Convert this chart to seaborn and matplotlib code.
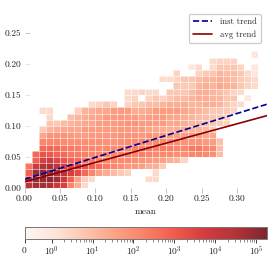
import numpy as np
import pandas as pd
import matplotlib
matplotlib.use("Agg")
import matplotlib.pyplot as plt
from matplotlib.colors import SymLogNorm
from matplotlib.ticker import FixedLocator
import seaborn as sns

sns.set_theme(style="white")
plt.rcParams["font.family"] = ["cmr10", "DejaVu Sans"]
plt.rcParams["mathtext.fontset"] = "cm"
plt.rcParams["axes.formatter.use_mathtext"] = True
plt.rcParams["axes.unicode_minus"] = False

# counts per cell, row 0 is the bottom row (mean bins 0.01 wide, y bins 0.01 high)
row_00 = [20000, 50000, 50000, 40000, 8000, 4000, 150, 20, 2]
row_01 = [8000, 80000, 90000, 100000, 60000, 8000, 800, 40, 5, 2, 0, 0, 0, 0, 0, 0, 0, 2, 2]
row_02 = [800, 60000, 100000, 60000, 40000, 20000, 5000, 2500, 500, 150, 40, 20, 10, 5, 3, 0, 0, 0, 2]
row_03 = [300, 8000, 30000, 50000, 20000, 5000, 3000, 3000, 1500, 800, 500, 250, 150, 100, 60, 60, 40, 20, 20, 5]
row_04 = [0, 800, 5000, 8000, 3000, 1500, 800, 500, 300, 250, 200, 150, 150, 120, 120, 100, 80, 60, 50, 40, 20, 15, 3]
row_05 = [0, 500, 1500, 1200, 800, 500, 300, 250, 200, 150, 150, 150, 150, 150, 200, 150, 200, 150, 120, 120, 120, 100, 100, 150, 150, 120, 100, 10]
row_06 = [0, 0, 500, 600, 500, 300, 250, 200, 150, 150, 120, 120, 120, 150, 150, 200, 200, 200, 200, 250, 200, 150, 150, 250, 250, 150, 120, 10]
row_07 = [0, 0, 150, 150, 150, 120, 100, 100, 100, 100, 100, 80, 80, 100, 120, 120, 150, 120, 120, 120, 100, 100, 80, 80, 80, 60, 50, 8]
row_08 = [0, 0, 30, 80, 80, 80, 60, 50, 50, 60, 60, 60, 60, 80, 80, 80, 60, 80, 60, 60, 50, 50, 50, 50, 50, 30, 30]
row_09 = [0, 0, 5, 15, 20, 30, 30, 30, 50, 50, 50, 50, 50, 60, 60, 50, 50, 30, 30, 20, 20, 20, 20, 15, 15, 10, 5]
row_10 = [0, 0, 0, 6, 5, 10, 15, 20, 30, 30, 50, 50, 50, 60, 80, 80, 50, 50, 50, 50, 30, 30, 20, 15, 10, 8, 6, 5, 3]
row_11 = [0, 0, 0, 2, 0, 0, 8, 15, 20, 30, 30, 50, 50, 60, 50, 50, 30, 40, 50, 50, 30, 30, 20, 15, 10, 10, 6, 5, 3]
row_12 = [0, 0, 2, 2, 0, 0, 0, 3, 15, 20, 30, 30, 50, 50, 50, 20, 20, 30, 50, 50, 50, 50, 30, 20, 15, 10, 6, 6, 5, 3]
row_13 = [0, 0, 0, 0, 0, 0, 0, 0, 0, 2, 3, 6, 3, 0, 3, 6, 6, 10, 10, 15, 20, 20, 20, 15, 15, 20, 20, 15, 6, 3, 2]
row_14 = [0, 0, 0, 0, 0, 0, 0, 0, 0, 0, 0, 0, 0, 0, 2, 3, 0, 3, 6, 3, 6, 10, 10, 15, 20, 20, 15, 15, 6, 6, 0, 1]
row_15 = [0, 0, 0, 0, 0, 0, 0, 0, 0, 0, 0, 0, 0, 0, 2, 2, 3, 2, 2, 0, 6, 6, 6, 10, 20, 20, 15, 10, 6, 3, 2]
row_16 = [0, 0, 0, 0, 0, 0, 0, 0, 0, 0, 0, 0, 0, 0, 0, 0, 0, 0, 0, 0, 0, 6, 5, 5, 15, 20, 15, 30, 20, 15, 6, 3, 2]
row_17 = [0, 0, 0, 0, 0, 0, 0, 0, 0, 0, 0, 0, 0, 0, 0, 0, 0, 0, 0, 2, 2, 3, 6, 6, 10, 15, 15, 20, 15, 10, 5, 3, 2]
row_18 = [0, 0, 0, 0, 0, 0, 0, 0, 0, 0, 0, 0, 0, 0, 0, 0, 0, 0, 0, 0, 0, 3, 0, 0, 3, 5, 6, 15, 10, 10, 6, 2, 1]
row_19 = [0, 0, 0, 0, 0, 0, 0, 0, 0, 0, 0, 0, 0, 0, 0, 0, 0, 0, 0, 0, 0, 0, 0, 1, 2, 0, 2, 6, 6, 6, 3, 0, 1]
row_20 = [0, 0, 0, 0, 0, 0, 0, 0, 0, 0, 0, 0, 0, 0, 0, 0, 0, 0, 0, 0, 0, 0, 0, 0, 0, 0, 2, 3, 3, 3]
row_21 = [0, 0, 0, 0, 0, 0, 0, 0, 0, 0, 0, 0, 0, 0, 0, 0, 0, 0, 0, 0, 0, 0, 0, 0, 0, 0, 0, 0, 0, 0, 0, 0, 1]

rows = [row_00, row_01, row_02, row_03, row_04, row_05, row_06, row_07, row_08, row_09, row_10,
        row_11, row_12, row_13, row_14, row_15, row_16, row_17, row_18, row_19, row_20, row_21]

trend_x = [0.0, 0.342]
inst_trend = [0.014, 0.135]
avg_trend = [0.010, 0.1166]

x_ticks = [0.00, 0.05, 0.10, 0.15, 0.20, 0.25, 0.30]
y_ticks = [0.00, 0.05, 0.10, 0.15, 0.20, 0.25]
cbar_ticks = [0, 1, 10, 100, 1000, 10000, 100000]
cbar_labels = ["$0$", "$10^{0}$", "$10^{1}$", "$10^{2}$", "$10^{3}$", "$10^{4}$", "$10^{5}$"]

# long table for histplot
bin_w = 0.01
recs = []
for r, vals in enumerate(rows):
    for c, v in enumerate(vals):
        if v > 0:
            recs.append(((c + 0.5) * bin_w, (r + 0.5) * bin_w, v))
df = pd.DataFrame(recs, columns=["mean", "val", "count"])

x_edges = np.arange(0, 35) * bin_w
y_edges = np.arange(0, 23) * bin_w

fig = plt.figure(figsize=(2.74, 2.74), dpi=100)
ax = fig.add_axes([24.5 / 274, 86 / 274, 242.5 / 274, 180 / 274])
cax = fig.add_axes([24.5 / 274, 35 / 274, 242 / 274, 12.3 / 274])

sns.histplot(data=df, x="mean", y="val", weights="count", bins=[x_edges, y_edges],
             cmap="Reds", alpha=0.85, linewidth=0, ax=ax)

# histplot always sets vmin/vmax, so the log norm goes on afterwards
norm = SymLogNorm(linthresh=1, linscale=0.6, vmin=0, vmax=1.8e5)
mesh = ax.collections[0]
mesh.set_norm(norm)

# thin see-through white lines between the cells
ax.vlines(x_edges, 0, y_edges[-1], color="white", linewidth=0.7, alpha=0.55, zorder=1.5)
ax.hlines(y_edges, 0, x_edges[-1], color="white", linewidth=0.7, alpha=0.55, zorder=1.5)

sns.lineplot(x=trend_x, y=inst_trend, color="darkblue", linestyle="--", linewidth=1.2,
             label="inst trend", ax=ax, zorder=3)
sns.lineplot(x=trend_x, y=avg_trend, color="darkred", linewidth=1.2, label="avg trend", ax=ax, zorder=3)

ax.set_xlim(0, 0.342)
ax.set_ylim(0, 0.29)
ax.set_xticks(x_ticks)
ax.set_xticklabels(["%.2f" % t for t in x_ticks])
ax.set_yticks(y_ticks)
ax.set_yticklabels(["%.2f" % t for t in y_ticks])
ax.set_xlabel("mean", fontsize=6.8, color="#222222", labelpad=3.5)
ax.set_ylabel("")
ax.tick_params(axis="x", direction="out", length=3.6, width=0.6, color="#bbbbbb",
               labelsize=6.8, labelcolor="#222222", pad=0.8, bottom=True)
ax.tick_params(axis="y", direction="in", length=3.6, width=0.6, color="#bbbbbb",
               labelsize=6.8, labelcolor="#222222", pad=2.5, left=True)
sns.despine(ax=ax, left=True, bottom=True)

leg = ax.legend(loc="upper right", bbox_to_anchor=(1.0, 1.0), fontsize=6.2, frameon=True,
                edgecolor="#cccccc", framealpha=1.0, borderaxespad=0.7, handlelength=2.3,
                labelspacing=0.5, borderpad=0.46, handletextpad=0.9)
leg.get_frame().set_linewidth(0.9)

# colorbar
cb = fig.colorbar(mesh, cax=cax, orientation="horizontal")
cb.set_ticks(cbar_ticks)
cb.set_ticklabels(cbar_labels)
minor = [m * 10.0**k for k in range(0, 6) for m in range(2, 10) if m * 10.0**k < 1.8e5]
cax.xaxis.set_minor_locator(FixedLocator(minor))
cax.tick_params(axis="x", which="major", length=3, width=0.6, color="#222222", labelsize=6.8,
                labelcolor="#222222", pad=1, bottom=True)
cax.tick_params(axis="x", which="minor", length=1.8, width=0.4, color="#333333", bottom=True)
cb.outline.set_edgecolor("#777777")
cb.outline.set_linewidth(0.7)

fig.savefig("out.png", dpi=100)
